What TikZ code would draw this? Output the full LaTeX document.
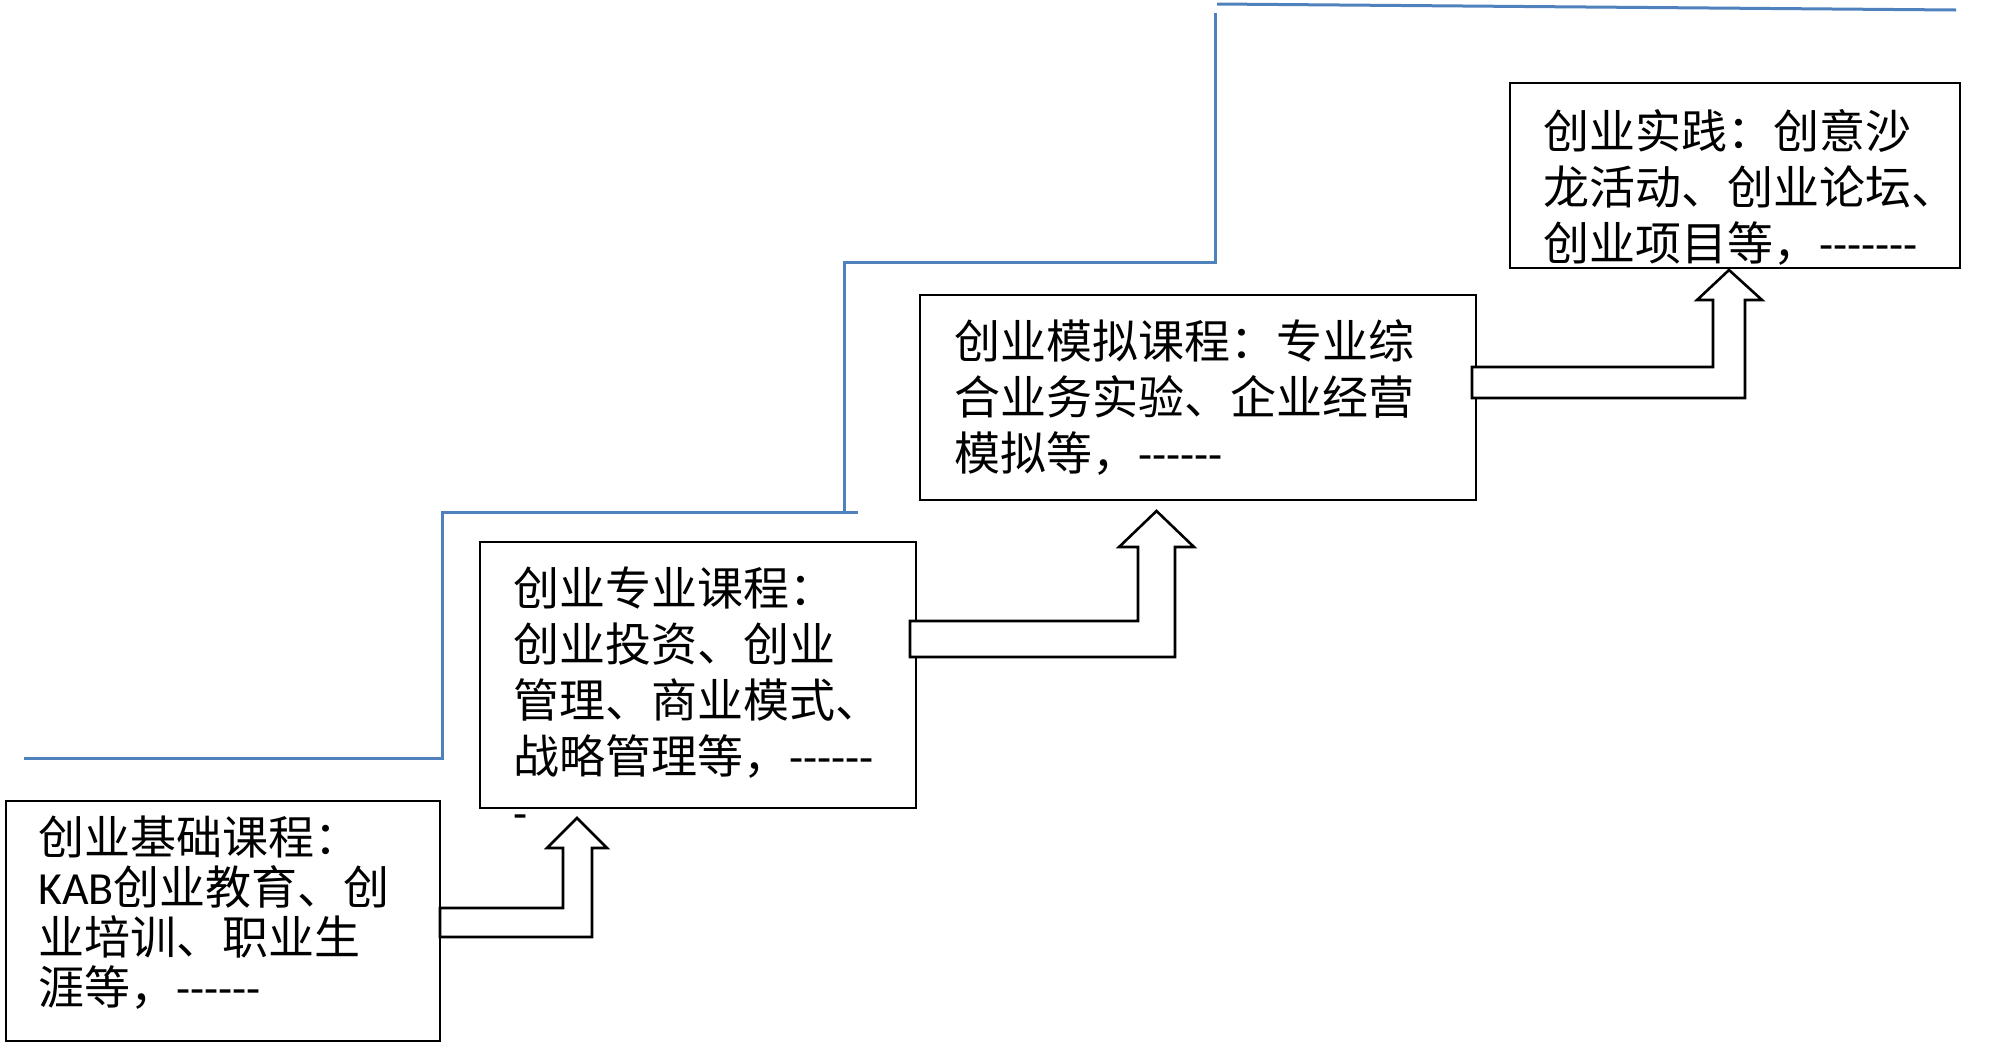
\documentclass[tikz,border=0pt]{standalone}
\usepackage{fontspec}
\setmainfont{Noto Sans CJK SC}
\newfontfamily\latinfont{Carlito}
\newcommand{\latrun}[1]{{\latinfont #1}}
\definecolor{stepblue}{RGB}{79,129,189}

\begin{document}
\begin{tikzpicture}[x=0.5pt,y=0.5pt,yscale=-1,xscale=1,
	box/.style={draw=black,line width=1.3pt,inner sep=0pt,outer sep=0pt},
	txt/.style={anchor=north west,inner sep=0pt,align=left,font=\fontsize{23}{28}\selectfont},
	blockarrow/.style={draw=black,fill=white,line width=1.3pt,line join=miter},
	stairline/.style={draw=stepblue,line width=1.5pt}]
		\useasboundingbox (0,0) rectangle (2000,1051);
		
		%Straight Lines: stairs
		\draw [stairline] (24,758) -- (442,758) -- (442,512) -- (858,512) ;
		\draw [stairline] (844,512) -- (844,262) -- (1215,262) -- (1215,13) ;
		\draw [stairline] (1217,4) -- (1956,10) ;
		
		%Shape: Rectangle
		\node [box,minimum width=217pt,minimum height=120pt] (b1) at (223,921) {};
		\node [box,minimum width=218pt,minimum height=133pt] (b2) at (698,675) {};
		\node [box,minimum width=278pt,minimum height=102.5pt] (b3) at (1198,397.5) {};
		\node [box,minimum width=225pt,minimum height=92.5pt] (b4) at (1735,175.5) {};
		
		%Shape: Bent Up Arrow
		\draw [blockarrow] (b1.east |- 0,908) -- (563,908) -- (563,848) -- (547,848) -- (577,818) -- (607,848) -- (592,848) -- (592,937) -- (b1.east |- 0,937) -- cycle ;
		%Shape: Bent Up Arrow
		\draw [blockarrow] (910,621) -- (1138,621) -- (1138,547) -- (1119,547) -- (1156.5,511) -- (1194,547) -- (1175,547) -- (1175,657) -- (910,657) -- cycle ;
		%Shape: Bent Up Arrow
		\draw [blockarrow] (1472,367) -- (1713,367) -- (1713,300) -- (1697,300) -- (1729,270) -- (1762,300) -- (1745,300) -- (1745,398) -- (1472,398) -- cycle ;
		
		% Text Node
		\node [txt,font=\fontsize{23}{25}\selectfont] (t1) at (38,815) {创业基础课程：\\\latrun{KAB}创业教育、创\\业培训、职业生\\涯等，\latrun{------}};
		% Text Node
		\node [txt] (t2) at (513,566) {创业专业课程：\\创业投资、创业\\管理、商业模式、\\战略管理等，\latrun{------}\\\latrun{-}};
		% Text Node
		\node [txt] (t3) at (954,319) {创业模拟课程：专业综\\合业务实验、企业经营\\模拟等，\latrun{------}};
		% Text Node
		\node [txt] (t4) at (1543,109) {创业实践：创意沙\\龙活动、创业论坛、\\创业项目等，\latrun{-------}};
		
\end{tikzpicture}
\end{document}
